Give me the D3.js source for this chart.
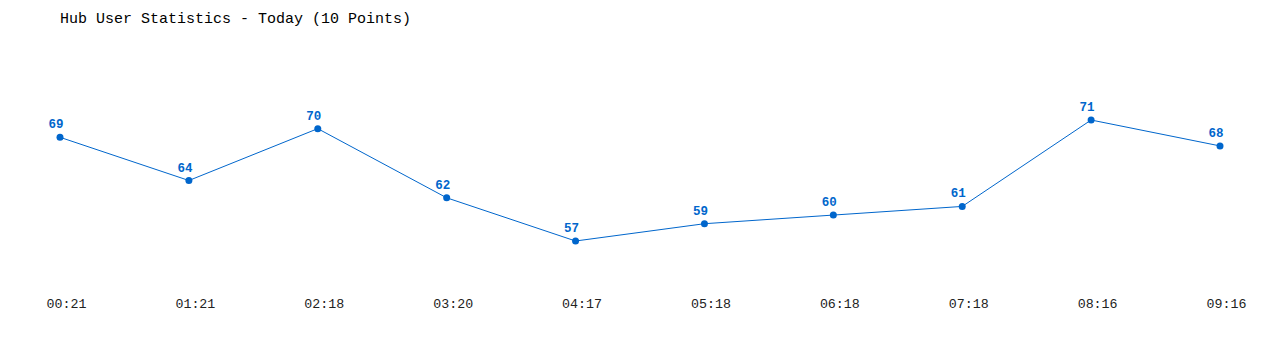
<!DOCTYPE html>
<html>
<head>
<meta charset="utf-8">
<script src="https://cdn.jsdelivr.net/npm/d3@7"></script>
<style>
  body { margin: 0; background: #fff; }
  .title { font-family: "Liberation Mono", "DejaVu Sans Mono", monospace; font-size: 15px; fill: #000; }
  .tick text { font-family: "Liberation Mono", "DejaVu Sans Mono", monospace; font-size: 13.3px; fill: #222; }
  .val { font-family: "Liberation Mono", "DejaVu Sans Mono", monospace; font-size: 12.5px; font-weight: bold; fill: #0066cc; }
</style>
</head>
<body>
<div id="chart"></div>
<script>
// data
const times = ["00:21", "01:21", "02:18", "03:20", "04:17", "05:18", "06:18", "07:18", "08:16", "09:16"];
const users = [69, 64, 70, 62, 57, 59, 60, 61, 71, 68];

const width = 1280, height = 350;
const lineColor = "#0066cc";

let svg = d3.select("#chart").append("svg")
  .attr("width", width)
  .attr("height", height);

svg.append("text")
  .attr("class", "title")
  .attr("x", 60)
  .attr("y", 23)
  .text("Hub User Statistics - Today (10 Points)");

//x is a point scale over the time labels
let x = d3.scalePoint().domain(times).range([60, 1220]);
let y = d3.scaleLinear().domain([d3.min(users), d3.max(users)]).range([241, 120]);

let xAxis = svg.append("g")
  .attr("transform", "translate(6,299)")
  .call(d3.axisBottom(x).tickSize(0).tickPadding(0));
xAxis.select(".domain").remove();

let pts = times.map((t, i) => ({ t: t, v: users[i] }));

svg.append("path")
  .datum(pts)
  .attr("fill", "none")
  .attr("stroke", lineColor)
  .attr("stroke-width", 1)
  .attr("d", d3.line().x(d => x(d.t)).y(d => y(d.v)));

svg.selectAll("circle").data(pts).enter().append("circle")
  .attr("cx", d => x(d.t))
  .attr("cy", d => y(d.v))
  .attr("r", 3.5)
  .attr("fill", lineColor);

svg.selectAll("text.val").data(pts).enter().append("text")
  .attr("class", "val")
  .attr("x", d => x(d.t) - 4)
  .attr("y", d => y(d.v) - 9)
  .attr("text-anchor", "middle")
  .text(d => d.v);
</script>
</body>
</html>
